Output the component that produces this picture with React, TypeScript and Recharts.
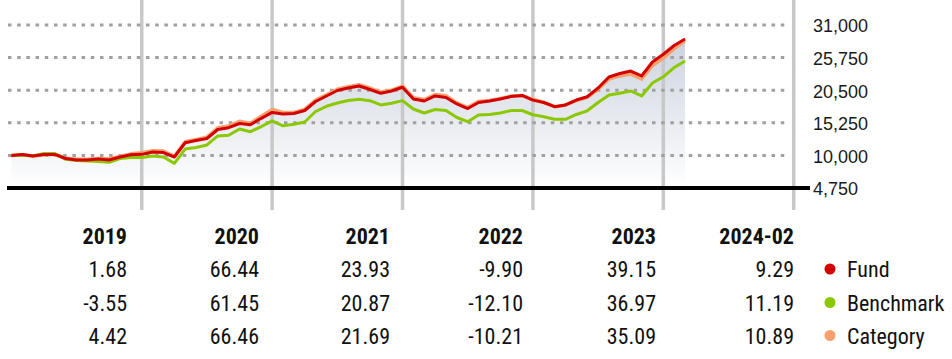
import React from 'react';
import { ComposedChart, Line, Area, XAxis, YAxis, ReferenceLine } from 'recharts';

// Growth of 10,000 — monthly values, Dec 2018 .. Feb 2024 (index 0..62)
const fund = [
  10000, 10150, 9900, 10150, 10150, 9500, 9260, 9260, 9420, 9260, 9740, 10100, 10168,
  10550, 10450, 9740, 12040, 12400, 12720, 14170, 14460, 15140, 14950, 15970, 16924,
  16670, 16750, 17230, 18680, 19570, 20450, 20850, 21180, 20610, 20000, 20370, 20974,
  19080, 18760, 19570, 19320, 18280, 17550, 18520, 18760, 19080, 19490, 19650, 18897,
  18520, 17840, 18120, 18920, 19440, 20850, 22620, 23190, 23590, 22790, 25040, 26296,
  27700, 28739,
];
const benchmark = [
  10000, 10050, 9900, 10300, 10300, 9370, 9180, 9100, 9020, 8890, 9500, 9660, 9645,
  9900, 9740, 8720, 11030, 11270, 11680, 13130, 13240, 14250, 13820, 14650, 15572,
  14770, 15010, 15380, 17070, 17910, 18440, 18840, 19030, 18810, 18120, 18390, 18822,
  17470, 16830, 17390, 17230, 16100, 15430, 16510, 16590, 16830, 17230, 17230, 16544,
  16230, 15810, 15810, 16590, 17180, 18520, 19730, 20000, 20370, 19570, 21660, 22661,
  24150, 25197,
];
const category = [
  10000, 10120, 9920, 10120, 10150, 9550, 9400, 9400, 9500, 9450, 9850, 10250, 10442,
  10750, 10700, 9850, 12200, 12550, 12950, 14450, 14750, 15500, 15200, 16300, 17382,
  16900, 16900, 17400, 18900, 19750, 20650, 21050, 21400, 20850, 20200, 20500, 21152,
  19300, 19000, 19800, 19600, 18450, 17700, 18700, 18850, 19150, 19550, 19650, 18993,
  18550, 17850, 18100, 18850, 19350, 20650, 22300, 22800, 23100, 22300, 24450, 25658,
  27200, 28452,
];

const yTicks = [4750, 10000, 15250, 20500, 25750, 31000];
const gridValues = [10000, 15250, 20500, 25750, 31000];
const yearEnds = [12, 24, 36, 48, 60, 72];

const periods = ['2019', '2020', '2021', '2022', '2023', '2024-02'];
const fundReturns = ['1.68', '66.44', '23.93', '-9.90', '39.15', '9.29'];
const benchmarkReturns = ['-3.55', '61.45', '20.87', '-12.10', '36.97', '11.19'];
const categoryReturns = ['4.42', '66.46', '21.69', '-10.21', '35.09', '10.89'];
const seriesNames = ['Fund', 'Benchmark', 'Category'];

const COLORS = { fund: '#d40000', benchmark: '#8cc800', category: '#f7a26e' };
const legendColors = [COLORS.fund, COLORS.benchmark, COLORS.category];

const data = fund.map((v, i) => ({ i, fund: v, benchmark: benchmark[i], category: category[i] }));

const AXIS_FONT = '"Liberation Sans", Arial, sans-serif';
const TABLE_FONT = '"Liberation Sans Narrow", "Arial Narrow", "Roboto Condensed", sans-serif';

const YTick = (props: any) => {
  const { x, y, payload } = props;
  return (
    <text x={x} y={y} dy={7.5} textAnchor="start" fontSize={18} fontFamily={AXIS_FONT} fill="#1a1a1a">
      {Number(payload.value).toLocaleString('en-US')}
    </text>
  );
};

const colRight = [127, 259, 390, 523, 656, 794];
const rowBase = [277, 310.5, 343.5];

export default function App() {
  const rows = [fundReturns, benchmarkReturns, categoryReturns];
  return (
    <div style={{ position: 'absolute', left: 0, top: 0, width: 952, height: 359, background: '#fff' }}>
      <ComposedChart
        width={952}
        height={359}
        data={data}
        margin={{ top: 0, right: 7, bottom: 149, left: 7 }}
      >
        <defs>
          <linearGradient id="areaGrad" gradientUnits="userSpaceOnUse" x1="0" y1="30" x2="0" y2="188">
            <stop offset="0" stopColor="#c9d0dc" />
            <stop offset="1" stopColor="#ffffff" />
          </linearGradient>
        </defs>
        <XAxis dataKey="i" type="number" domain={[-0.4, 73.5]} hide />
        <YAxis
          orientation="right"
          type="number"
          domain={[1207, 35026]}
          ticks={yTicks}
          width={135}
          axisLine={false}
          tickLine={false}
          tickSize={0}
          tickMargin={3}
          tick={<YTick />}
          interval={0}
        />
        <Area
          dataKey="fund"
          type="linear"
          baseValue={4750}
          stroke="none"
          fill="url(#areaGrad)"
          fillOpacity={1}
          isAnimationActive={false}
        />
        {yearEnds.map((x) => (
          <ReferenceLine key={'v' + x} x={x} stroke="#c8c8c8" strokeWidth={3.5} />
        ))}
        {gridValues.map((v) => (
          <ReferenceLine
            key={'g' + v}
            segment={[{ x: -0.31, y: v }, { x: 71.66, y: v }]}
            stroke="#a0a0a0"
            strokeWidth={3}
            strokeDasharray="3.5 5.7"
          />
        ))}
        <ReferenceLine segment={[{ x: -0.4, y: 4750 }, { x: 73.5, y: 4750 }]} stroke="#000" strokeWidth={4} />
        <Line dataKey="category" type="linear" stroke={COLORS.category} strokeWidth={3.5} dot={false} isAnimationActive={false} strokeLinejoin="round" />
        <Line dataKey="benchmark" type="linear" stroke={COLORS.benchmark} strokeWidth={3} dot={false} isAnimationActive={false} strokeLinejoin="round" />
        <Line dataKey="fund" type="linear" stroke={COLORS.fund} strokeWidth={3} dot={false} isAnimationActive={false} strokeLinejoin="round" />
      </ComposedChart>
      <svg width={952} height={359} style={{ position: 'absolute', left: 0, top: 0, pointerEvents: 'none' }}>
        {periods.map((p, c) => (
          <text key={p} x={colRight[c]} y={244} textAnchor="end" fontSize={22} fontWeight="bold" fontFamily={TABLE_FONT} fill="#111">
            {p}
          </text>
        ))}
        {rows.map((r, ri) =>
          r.map((v, c) => (
            <text key={ri + '-' + c} x={colRight[c]} y={rowBase[ri]} textAnchor="end" fontSize={22} fontFamily={TABLE_FONT} fill="#111">
              {v}
            </text>
          ))
        )}
        {seriesNames.map((n, ri) => (
          <g key={n}>
            <circle cx={830} cy={rowBase[ri] - 8} r={5.5} fill={legendColors[ri]} />
            <text x={847} y={rowBase[ri]} fontSize={22} fontFamily={TABLE_FONT} fill="#111">
              {n}
            </text>
          </g>
        ))}
      </svg>
    </div>
  );
}
